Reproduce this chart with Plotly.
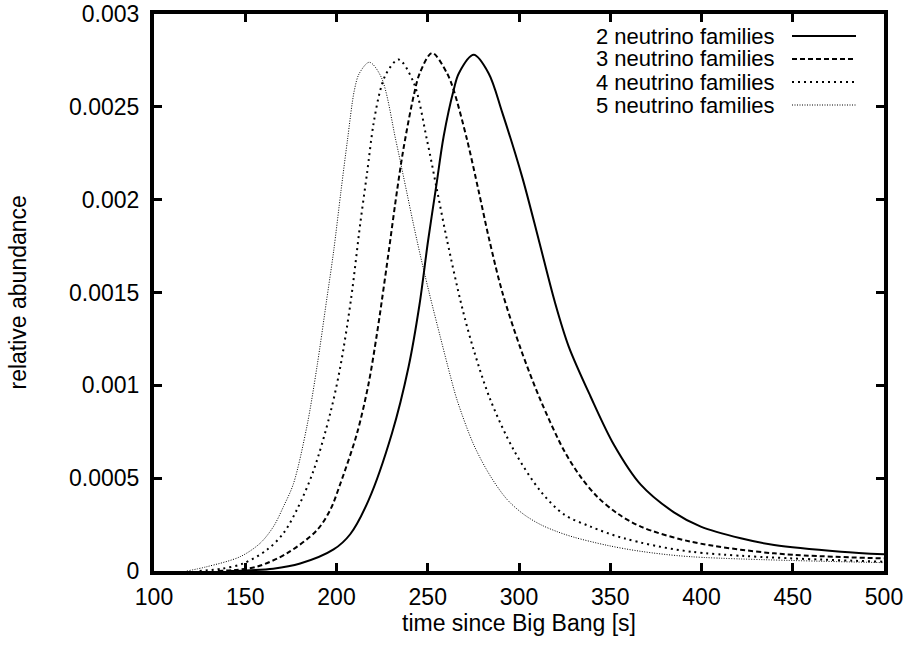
import plotly.graph_objects as go

# ---- data ----
t2 = [140, 150, 165.3, 180.1, 198.4, 207.5, 217.6, 230.4, 239.5, 245.4, 250.2, 254.6, 258.7,
      264.2, 267.0, 275.2, 283.4, 290.8, 301.8, 310.9, 319.6, 327.2, 339.2, 352.0, 366.7, 384.9,
      399.6, 421.5, 439.8, 476.4, 500]
y2 = [0.0, 0.000003, 0.000012, 0.000040, 0.000116, 0.000198, 0.000382, 0.000742, 0.0011,
      0.00143, 0.00178, 0.00207, 0.00234, 0.00259, 0.00268, 0.00278, 0.00268, 0.00247, 0.00212,
      0.00178, 0.00145, 0.00121, 0.00094, 0.00068, 0.000465, 0.000316, 0.000239, 0.000176,
      0.00014, 0.000104, 0.000090]

t3 = [135, 145, 156.4, 172.8, 189.3, 196.6, 202.1, 211.2, 217.6, 222.2, 224.9, 228.6, 233.2,
      236.8, 242.3, 245.6, 252.4, 260.6, 264.2, 271.6, 277.8, 283.8, 290.9, 300.8, 311.8, 324.6,
      333.7, 342.9, 353.9, 366.7, 394.1, 439.8, 500]
y3 = [0.0, 0.000006, 0.000023, 0.000095, 0.00022, 0.00033, 0.00047, 0.00074, 0.00101, 0.00128,
      0.00146, 0.00172, 0.00205, 0.00228, 0.00256, 0.00268, 0.00279, 0.00268, 0.00259, 0.00232,
      0.00205, 0.00178, 0.00150, 0.00120, 0.00092, 0.00065, 0.000508, 0.0004, 0.00031,
      0.000239, 0.000158, 0.000095, 0.000068]

t4 = [125, 137, 149, 161.8, 170.9, 178.3, 187.4, 196.6, 202.1, 207.9, 213.0, 216.7, 220.3,
      224.0, 227.3, 234.0, 242.3, 249.6, 255.1, 260.6, 268.8, 275.2, 284.4, 297.2, 311.8, 324.6,
      339.2, 357.5, 394.1, 500]
y4 = [0.0, 0.000012, 0.000041, 0.000113, 0.000203, 0.00033, 0.00054, 0.00085, 0.0011, 0.00146,
      0.00187, 0.00214, 0.00241, 0.00259, 0.00268, 0.002755, 0.00263, 0.00232, 0.00205,
      0.00178, 0.00142, 0.00119, 0.00092, 0.00065, 0.00043, 0.000305, 0.000239, 0.000176,
      0.000104, 0.00005]

t5 = [118, 128.9, 147.2, 158.2, 165.5, 170.9, 176.4, 183.8, 189.3, 194.6, 198.4, 202.5, 206.0,
      209.8, 212.5, 218.0, 224.5, 232.5, 236.8, 244.1, 250.5, 256.9, 262.4, 266.1, 275.2, 284.4,
      293.5, 302.6, 311.8, 320.9, 330.1, 348.4, 366.7, 394.1, 500]
y5 = [0.0, 0.000023, 0.000077, 0.00015, 0.00024, 0.000346, 0.00047, 0.00078, 0.0011, 0.00146,
      0.00172, 0.00205, 0.00232, 0.00259, 0.00268, 0.00274, 0.00266, 0.00232, 0.00212, 0.00178,
      0.00151, 0.00126, 0.00105, 0.00092, 0.00068, 0.00051, 0.000385, 0.000305, 0.00025,
      0.000212, 0.000182, 0.000138, 0.000106, 0.000077, 0.000045]

labels = ["2 neutrino families", "3 neutrino families", "4 neutrino families", "5 neutrino families"]
x_ticks = [100, 150, 200, 250, 300, 350, 400, 450, 500]
y_ticks = [0, 0.0005, 0.001, 0.0015, 0.002, 0.0025, 0.003]
y_tick_text = ["0", "0.0005", "0.001", "0.0015", "0.002", "0.0025", "0.003"]

styles = [
    dict(width=2, dash="solid"),
    dict(width=2, dash="5px,3px"),
    dict(width=2, dash="2px,4px"),
    dict(width=1, dash="1px,1.5px"),
]

FONT = "Liberation Sans, Arial, sans-serif"
fig = go.Figure()
for tx, ty, name, st in zip([t2, t3, t4, t5], [y2, y3, y4, y5], labels, styles):
    fig.add_trace(go.Scatter(x=tx, y=ty, mode="lines", name=name,
                             line=dict(color="black", shape="spline", smoothing=0.9, **st),
                             showlegend=False))

# manual gnuplot-style legend (text right aligned, sample to the right)
L, R, T, B = 154, 884, 14, 571
W, H = R - L, B - T
rows = [36, 59, 82, 105]
for name, st, py in zip(labels, styles, rows):
    yp = (B - py) / H
    fig.add_annotation(x=(777 - L) / W, y=yp, xref="paper", yref="paper", text=name,
                       showarrow=False, xanchor="right", yanchor="middle",
                       font=dict(family=FONT, size=22, color="black"))
    fig.add_shape(type="line", xref="paper", yref="paper", x0=(792 - L) / W, x1=(856 - L) / W,
                  y0=yp, y1=yp, line=dict(color="black", **st))

# y axis title placed as rotated text
fig.add_annotation(x=(17 - L) / W, y=0.5, xref="paper", yref="paper", text="relative abundance",
                   textangle=-90, showarrow=False, xanchor="center", yanchor="middle",
                   font=dict(family=FONT, size=23, color="black"))

axis_common = dict(showgrid=False, zeroline=False, showline=True, linecolor="black", linewidth=4,
                   mirror="ticks", ticks="inside", ticklen=8, tickwidth=3, tickcolor="black",
                   automargin=False,
                   tickfont=dict(family=FONT, size=23, color="black"))
fig.update_xaxes(range=[100, 500], tickvals=x_ticks, ticklabelstandoff=2,
                 title=dict(text="time since Big Bang [s]",
                            font=dict(family=FONT, size=23, color="black"), standoff=6),
                 **axis_common)
fig.update_yaxes(range=[0, 0.003], tickvals=y_ticks, ticktext=y_tick_text, ticklabelstandoff=6,
                 **axis_common)
fig.update_layout(width=910, height=646, margin=dict(l=L, r=910 - R, t=T, b=646 - B),
                  paper_bgcolor="white", plot_bgcolor="white")
fig.write_html("out.html")
